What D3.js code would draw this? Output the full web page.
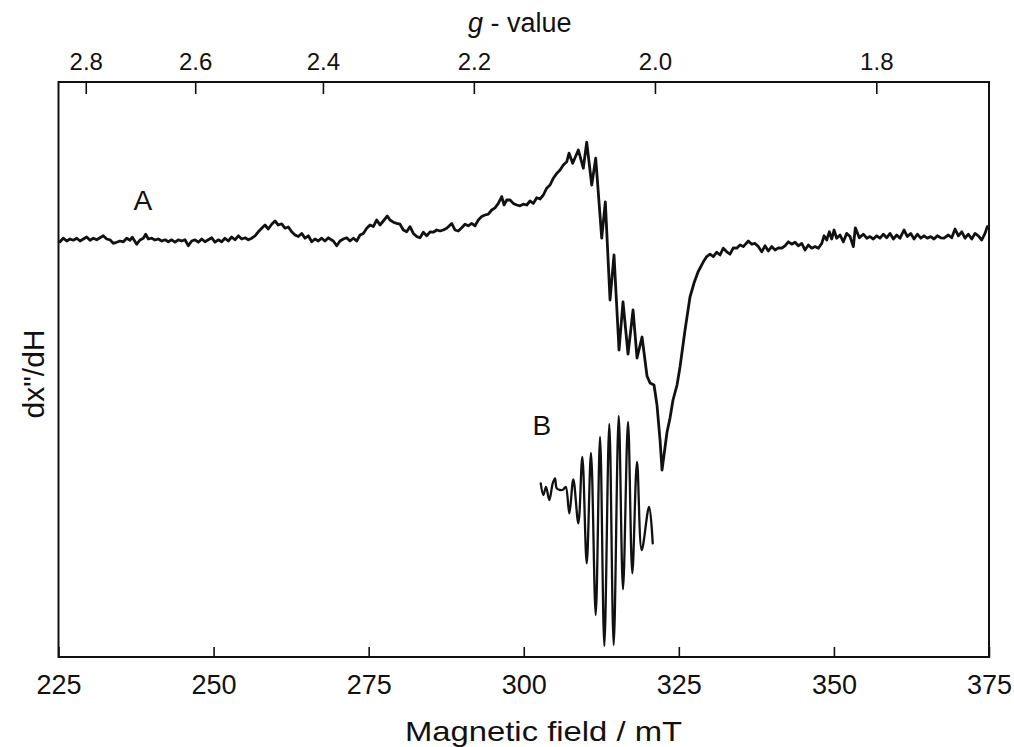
<!DOCTYPE html>
<html>
<head>
<meta charset="utf-8">
<script src="https://cdn.jsdelivr.net/npm/d3@7/dist/d3.min.js"></script>
<style>
  html, body { margin: 0; padding: 0; background: #fff; }
  svg { display: block; }
  text { font-family: "Liberation Sans", Arial, Helvetica, sans-serif; fill: #111; }
</style>
</head>
<body>
<script>
// ---- Data ----
// Magnetic field range (mT)
const fieldDomain = [225, 375];
// Bottom axis ticks (mT)
const fieldTicks = [225, 250, 275, 300, 325, 350, 375];
// Top axis ticks (g-value)
const gTicks = [2.8, 2.6, 2.4, 2.2, 2.0, 1.8];
// Resonance constant h*nu/muB in mT (B = K / g)
const resonanceK = 642.3;
// Signal range (arbitrary units)
const signalDomain = [-208, 79.5];

// Spectrum A: [field (mT), dx''/dH (arb.)]
const traceA = [
[225.24,-0.4],[225.77,1.4],[226.32,0],[226.85,1.0],[227.39,0.4],[227.93,1.4],[228.47,0],[229.00,1.0],[229.55,2.0],[230.08,0.4],
[230.61,1.4],[231.16,0.6],[231.69,1.6],[232.22,2.6],[232.77,1.0],[233.30,0.6],[233.83,-1.2],[234.38,-0.6],[234.91,0],[235.45,-0.4],
[235.99,1.4],[236.53,0.4],[236.90,1.9],[237.61,-1.6],[238.14,0.5],[238.67,1.4],[239.06,3.4],[239.48,1.0],[240.03,1.4],[240.56,0.5],
[241.09,1.0],[241.64,0],[242.17,0.6],[242.70,-0.4],[243.25,0.6],[243.78,-0.6],[244.31,0.6],[244.86,0],[245.39,0.6],[245.93,-2.4],
[246.47,0],[247.01,0.6],[247.54,-0.6],[248.09,1.0],[248.62,-0.4],[249.15,0.6],[249.70,1.6],[250.23,-0.6],[250.76,0.6],[251.31,-0.4],
[251.84,1.4],[252.37,0],[252.92,2.0],[253.45,0.6],[253.99,2.6],[254.53,1.0],[255.07,1.6],[255.60,0.6],[256.15,1.4],[256.68,2.6],
[257.21,4.6],[257.76,6.4],[258.29,8.0],[258.82,6.0],[259.37,8.4],[259.90,10.0],[260.43,8.0],[260.98,8.6],[261.51,6.4],[262.05,7.0],
[262.59,4.6],[263.13,3.0],[263.66,2.2],[264.21,3.8],[264.74,1.4],[265.27,2.6],[265.82,-0.4],[266.35,1.0],[266.88,0],[267.43,1.4],
[267.96,0],[268.50,1.6],[268.77,1.0],[269.30,0],[269.85,-2.4],[270.38,0],[270.91,1.0],[271.46,1.6],[271.99,0],[272.52,1.4],
[273.07,0],[273.61,3.0],[274.14,3.8],[274.69,6.4],[275.22,8.0],[275.75,7.2],[276.30,10.5],[276.83,8.0],[277.36,10.0],[278.01,12.5],
[278.44,10.5],[278.97,9.4],[279.52,8.8],[280.05,8.4],[280.59,5.5],[281.13,4.6],[281.67,7.2],[282.20,3.8],[282.75,2.2],[283.28,1.6],
[283.81,4.4],[284.36,2.6],[284.89,4.6],[285.42,4.4],[285.97,5.5],[286.50,5.0],[287.03,5.5],[287.58,6.4],[288.39,8.8],[288.92,5.5],
[289.45,5.0],[290.00,6.6],[290.53,8.4],[291.06,7.6],[291.61,8.8],[292.14,7.6],[292.68,10.5],[293.22,12.2],[293.76,13.0],[294.29,13.4],
[294.84,15.5],[295.37,16.6],[295.90,18.8],[296.45,22.2],[296.82,18.0],[297.25,20.5],[297.79,20.5],[298.32,18.8],[298.87,18.0],[299.40,17.6],
[299.93,18.4],[300.48,18.0],[301.01,20.0],[301.54,18.8],[302.09,21.6],[302.62,21.0],[303.16,23.0],[303.70,26.4],[304.24,28.0],[304.77,31.4],
[305.32,33.8],[305.85,35.5],[306.38,38.0],[306.93,39.6],[307.30,43.9],[307.89,38.9],[308.80,45.5],[309.60,36.4],[310.15,49.4],[310.96,28.0],
[311.60,41.4],[312.57,1.4],[313.15,19.6],[313.91,-29.5],[314.55,-7.0],[315.36,-54.5],[316.00,-30.5],[316.81,-56.5],[317.62,-34.5],[318.26,-58.5],
[319.07,-48.0],[319.87,-67.5],[320.36,-71.0],[321.00,-72.0],[321.48,-82.0],[321.97,-99.5],[322.29,-114.5],[322.61,-107.0],[323.10,-95.5],[323.58,-88.5],
[324.06,-79.5],[324.71,-72.0],[325.19,-63.0],[326.00,-44.5],[326.80,-28.0],[327.45,-21.0],[328.09,-15.5],[328.95,-10.4],[329.50,-7.8],[330.03,-6.6],
[330.56,-7.8],[331.11,-5.6],[331.64,-7.0],[332.17,-3.6],[332.72,-5.4],[333.25,-6.6],[333.78,-3.4],[334.33,-3.6],[334.86,-2.0],[335.40,-2.8],
[336.20,0],[336.75,-1.6],[337.28,-1.2],[337.81,-2.8],[338.36,-5.4],[338.89,-2.4],[339.43,-5.0],[339.97,-2.8],[340.51,-4.5],[341.04,-3.4],
[341.59,-3.6],[342.12,-2.4],[342.65,-0.4],[343.20,-1.6],[343.73,-0.6],[344.26,-2.4],[344.81,-1.2],[345.34,-4.5],[345.88,-2.0],[346.42,-3.6],
[346.96,-2.8],[347.49,-3.6],[348.04,-1.2],[348.41,2.6],[348.84,0.5],[349.26,4.6],[349.65,1.0],[350.02,5.5],[350.45,1.4],[350.99,3.0],
[351.52,-0.4],[352.07,3.8],[352.60,2.2],[353.13,-2.8],[353.45,6.6],[354.10,1.6],[354.74,3.4],[355.29,1.4],[355.82,2.2],[356.35,1.0],
[356.90,2.6],[357.43,1.4],[357.97,3.4],[358.51,1.6],[359.05,3.8],[359.58,1.0],[360.13,3.0],[360.66,1.4],[361.30,5.5],[361.84,2.2],
[362.38,3.8],[362.92,1.0],[363.45,3.4],[364.00,1.4],[364.53,2.6],[365.06,1.4],[365.61,2.2],[366.14,1.0],[366.67,2.6],[367.22,1.6],
[367.75,1.4],[368.45,3.0],[368.99,1.6],[369.53,6.0],[370.06,2.6],[370.61,4.6],[371.14,1.4],[371.67,3.4],[372.22,1.0],[372.75,3.8],
[373.28,2.6],[373.83,0.5],[374.36,3.8],[374.73,7.2]
];

// Spectrum B (simulation, offset): [field (mT), signal (arb.)]
const traceB = [
[302.74,-121.2],[303.16,-127.0],[303.59,-122.9],[304.12,-129.5],[304.67,-121.2],[305.04,-118.7],[305.32,-123.7],[305.85,-124.5],[306.38,-124.2],[306.77,-122.9],
[307.35,-136.2],[307.99,-119.2],[308.80,-141.2],[309.44,-107.9],[310.15,-161.2],[310.84,-105.9],[311.60,-187.0],[312.30,-97.9],[312.99,-202.5],[313.79,-91.5],
[314.50,-202.0],[315.31,-87.5],[316.00,-174.2],[316.81,-90.4],[317.50,-166.2],[318.26,-110.4],[319.02,-154.5],[320.20,-132.9],[320.79,-151.2]
];

// Trace labels: [text, field, signal]
const traceLabels = [["A", 238.6, 15.5], ["B", 302.9, -97]];

// ---- Layout ----
const W = 1014, H = 747;
const plot = { left: 58.5, right: 989, top: 82, bottom: 657 };

const svg = d3.select("body").append("svg").attr("width", W).attr("height", H);

const x = d3.scaleLinear().domain(fieldDomain).range([plot.left, plot.right]);
const y = d3.scaleLinear().domain(signalDomain).range([plot.bottom, plot.top]);
// g-value axis: B = K/g  -> position linear in 1/g
const gScale = d3.scalePow().exponent(-1)
  .domain([resonanceK / fieldDomain[0], resonanceK / fieldDomain[1]])
  .range([plot.left, plot.right]);

// Frame
svg.append("rect")
  .attr("x", plot.left).attr("y", plot.top)
  .attr("width", plot.right - plot.left).attr("height", plot.bottom - plot.top)
  .attr("fill", "none").attr("stroke", "#111").attr("stroke-width", 2);

// Bottom axis
const xAxis = svg.append("g")
  .attr("transform", `translate(0,${plot.bottom})`)
  .call(d3.axisBottom(x).tickValues(fieldTicks).tickFormat(d3.format("d"))
    .tickSizeInner(-10).tickSizeOuter(0).tickPadding(18));
xAxis.select(".domain").remove();
xAxis.selectAll("line").attr("stroke", "#111").attr("stroke-width", 1.6);
xAxis.selectAll("text").attr("font-size", 27).attr("fill", "#111")
  .style("font-family", '"Liberation Sans", Arial, sans-serif');

// Top axis (g-value)
const gAxis = svg.append("g")
  .attr("transform", `translate(0,${plot.top})`)
  .call(d3.axisTop(gScale).tickValues(gTicks).tickFormat(d3.format(".1f"))
    .tickSizeInner(-12).tickSizeOuter(0).tickPadding(12));
gAxis.select(".domain").remove();
gAxis.selectAll("line").attr("stroke", "#111").attr("stroke-width", 1.6);
gAxis.selectAll("text").attr("font-size", 24).attr("fill", "#111")
  .style("font-family", '"Liberation Sans", Arial, sans-serif');

// Spectra
const line = d3.line().x(d => x(d[0])).y(d => y(d[1]));
svg.append("path").datum(traceA)
  .attr("d", line.curve(d3.curveLinear))
  .attr("fill", "none").attr("stroke", "#111").attr("stroke-width", 2.8)
  .attr("stroke-linejoin", "round").attr("stroke-linecap", "round");

const lineB = d3.line().x(d => x(d[0])).y(d => y(d[1])).curve(d3.curveCatmullRom.alpha(0.5));
svg.append("path").datum(traceB)
  .attr("d", lineB)
  .attr("fill", "none").attr("stroke", "#111").attr("stroke-width", 2.3)
  .attr("stroke-linejoin", "round").attr("stroke-linecap", "round");

// Trace labels
svg.selectAll("text.trace").data(traceLabels).enter().append("text")
  .attr("class", "trace")
  .attr("x", d => x(d[1])).attr("y", d => y(d[2]))
  .attr("text-anchor", "middle").attr("font-size", 28)
  .text(d => d[0]);

// Axis titles
const gTitle = svg.append("text")
  .attr("x", 468).attr("y", 32).attr("font-size", 27).attr("text-anchor", "start");
gTitle.append("tspan").attr("font-style", "italic").text("g");
gTitle.append("tspan").text(" - value");

svg.append("text")
  .attr("x", 405).attr("y", 741).attr("font-size", 28)
  .attr("textLength", 277).attr("lengthAdjust", "spacingAndGlyphs")
  .text("Magnetic field / mT");

svg.append("text")
  .attr("transform", "translate(44,374) rotate(-90)")
  .attr("text-anchor", "middle").attr("font-size", 30)
  .text("dx\"/dH");
</script>
</body>
</html>
